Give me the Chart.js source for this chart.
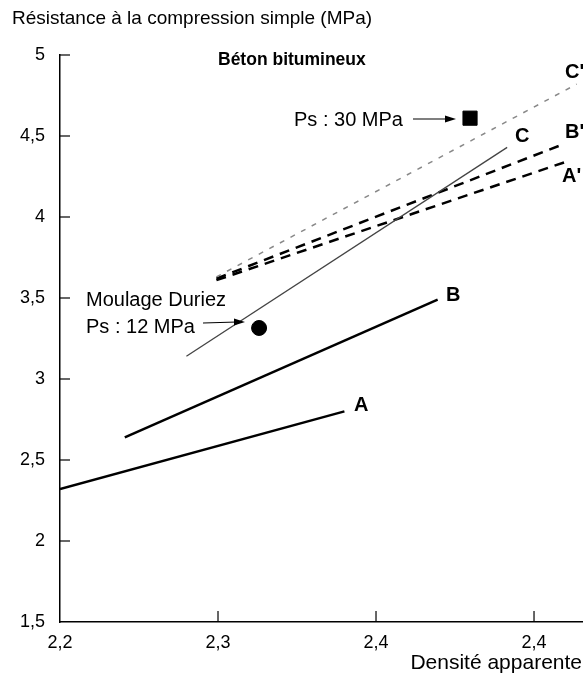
<!DOCTYPE html>
<html>
<head>
<meta charset="utf-8">
<script src="https://cdn.jsdelivr.net/npm/chart.js@4.4.0/dist/chart.umd.min.js"></script>
<style>
  body { margin: 0; background: #fff; }
  #wrap { width: 583px; height: 677px; }
</style>
</head>
<body>
<div id="wrap"><canvas id="chart"></canvas></div>
<script>
// density (x) / strength (y) pairs for each straight line
const densityA = [2.2, 2.38]
const strengthA = [2.32, 2.80]
const densityB = [2.241, 2.439]
const strengthB = [2.64, 3.49]
const densityC = [2.28, 2.483]
const strengthC = [3.14, 4.43]
const densityCp = [2.299, 2.527]
const strengthCp = [3.63, 4.82]
const densityBp = [2.299, 2.516]
const strengthBp = [3.62, 4.44]
const densityAp = [2.299, 2.52]
const strengthAp = [3.61, 4.34]
// Duriez moulding points
const duriezDensity = [2.326]
const duriezStrength = [3.315]
const press30Density = [2.4595]
const press30Strength = [4.61]

const xTicks = [2.2, 2.3, 2.4, 2.5]
const xTickLabels = ['2,2', '2,3', '2,4', '2,4']
const yTicks = [1.5, 2, 2.5, 3, 3.5, 4, 4.5, 5]

const FONT = '"Liberation Sans", Arial, sans-serif'

function pts(xs, ys) {
  return xs.map((x, i) => ({ x: x, y: ys[i] }))
}

function lineSet(xs, ys, color, width, dash) {
  return {
    data: pts(xs, ys),
    showLine: true,
    borderColor: color,
    borderWidth: width,
    borderDash: dash || [],
    pointRadius: 0,
    fill: false,
  }
}

function arrow(ctx, x1, y1, x2, y2) {
  ctx.save()
  ctx.strokeStyle = '#000'
  ctx.fillStyle = '#000'
  ctx.lineWidth = 1.2
  ctx.beginPath()
  ctx.moveTo(x1, y1)
  ctx.lineTo(x2 - 8, y2)
  ctx.stroke()
  ctx.beginPath()
  ctx.moveTo(x2, y2)
  ctx.lineTo(x2 - 11, y2 - 3.5)
  ctx.lineTo(x2 - 11, y2 + 3.5)
  ctx.closePath()
  ctx.fill()
  ctx.restore()
}

const annotations = {
  id: 'annotations',
  afterDraw(chart) {
    const ctx = chart.ctx
    const xs = chart.scales.x
    const ys = chart.scales.y
    ctx.save()
    // inward tick marks
    ctx.strokeStyle = '#000'
    ctx.lineWidth = 1.2
    yTicks.forEach(v => {
      if (v === 1.5) return
      const py = ys.getPixelForValue(v)
      ctx.beginPath()
      ctx.moveTo(xs.left, py)
      ctx.lineTo(xs.left + 10, py)
      ctx.stroke()
    })
    xTicks.forEach(v => {
      if (v === 2.2) return
      const px = xs.getPixelForValue(v)
      ctx.beginPath()
      ctx.moveTo(px, ys.bottom)
      ctx.lineTo(px, ys.bottom - 11)
      ctx.stroke()
    })

    ctx.fillStyle = '#000'
    ctx.textBaseline = 'middle'
    ctx.textAlign = 'left'
    ctx.font = '19px ' + FONT
    ctx.fillText('Résistance à la compression simple (MPa)', 12, 19)
    ctx.font = '20px ' + FONT
    ctx.fillText('Ps : 30 MPa', 294, 120)
    ctx.fillText('Moulage Duriez', 86, 300)
    ctx.fillText('Ps : 12 MPa', 86, 327)
    ctx.font = '21px ' + FONT
    ctx.textAlign = 'right'
    ctx.fillText('Densité apparente', 582, 663)

    ctx.textAlign = 'left'
    ctx.font = 'bold 17.5px ' + FONT
    ctx.fillText('Béton bitumineux', 218, 60)
    ctx.font = 'bold 20px ' + FONT
    ctx.fillText("C'", 565, 72)
    ctx.fillText('C', 515, 136)
    ctx.fillText("B'", 565, 132)
    ctx.fillText("A'", 562, 176)
    ctx.fillText('B', 446, 295)
    ctx.fillText('A', 354, 405)
    ctx.restore()

    arrow(ctx, 413, 119, 456, 119)
    arrow(ctx, 203, 323, 245, 322)
  },
}

new Chart(document.getElementById('chart'), {
  type: 'scatter',
  data: {
    datasets: [
      lineSet(densityA, strengthA, '#000', 2.5),
      lineSet(densityB, strengthB, '#000', 2.5),
      lineSet(densityC, strengthC, '#444', 1.3),
      lineSet(densityCp, strengthCp, '#888', 1.5, [5, 7]),
      lineSet(densityBp, strengthBp, '#000', 2.5, [10, 7]),
      lineSet(densityAp, strengthAp, '#000', 2.5, [10, 7]),
      {
        data: pts(duriezDensity, duriezStrength),
        pointStyle: 'circle',
        pointRadius: 7.5,
        backgroundColor: '#000',
        borderColor: '#000',
      },
      {
        data: pts(press30Density, press30Strength),
        pointStyle: 'rect',
        pointRadius: 10,
        backgroundColor: '#000',
        borderColor: '#000',
      },
    ],
  },
  options: {
    responsive: true,
    maintainAspectRatio: false,
    animation: false,
    layout: { autoPadding: false, padding: { top: 55, left: 0, right: 0, bottom: 0 } },
    plugins: { legend: { display: false }, tooltip: { enabled: false } },
    scales: {
      x: {
        type: 'linear',
        min: 2.2,
        max: 2.531,
        afterBuildTicks: scale => {
          scale.ticks = xTicks.map(v => ({ value: v }))
        },
        afterFit: scale => {
          scale.height = 55
          scale.paddingLeft = 0
          scale.paddingRight = 0
        },
        grid: { display: false, drawTicks: false },
        border: { display: true, color: '#000', width: 1.5 },
        ticks: {
          color: '#000',
          font: { size: 18, family: FONT },
          padding: 10,
          maxRotation: 0,
          callback: (v, i) => xTickLabels[i],
        },
      },
      y: {
        type: 'linear',
        min: 1.5,
        max: 5,
        afterBuildTicks: scale => {
          scale.ticks = yTicks.map(v => ({ value: v }))
        },
        afterFit: scale => {
          scale.width = 60
          scale.paddingTop = 0
          scale.paddingBottom = 0
        },
        grid: { display: false, drawTicks: false },
        border: { display: true, color: '#000', width: 1.5 },
        ticks: {
          color: '#000',
          font: { size: 18, family: FONT },
          padding: 15,
          callback: v => String(v).replace('.', ','),
        },
      },
    },
  },
  plugins: [annotations],
})
</script>
</body>
</html>
